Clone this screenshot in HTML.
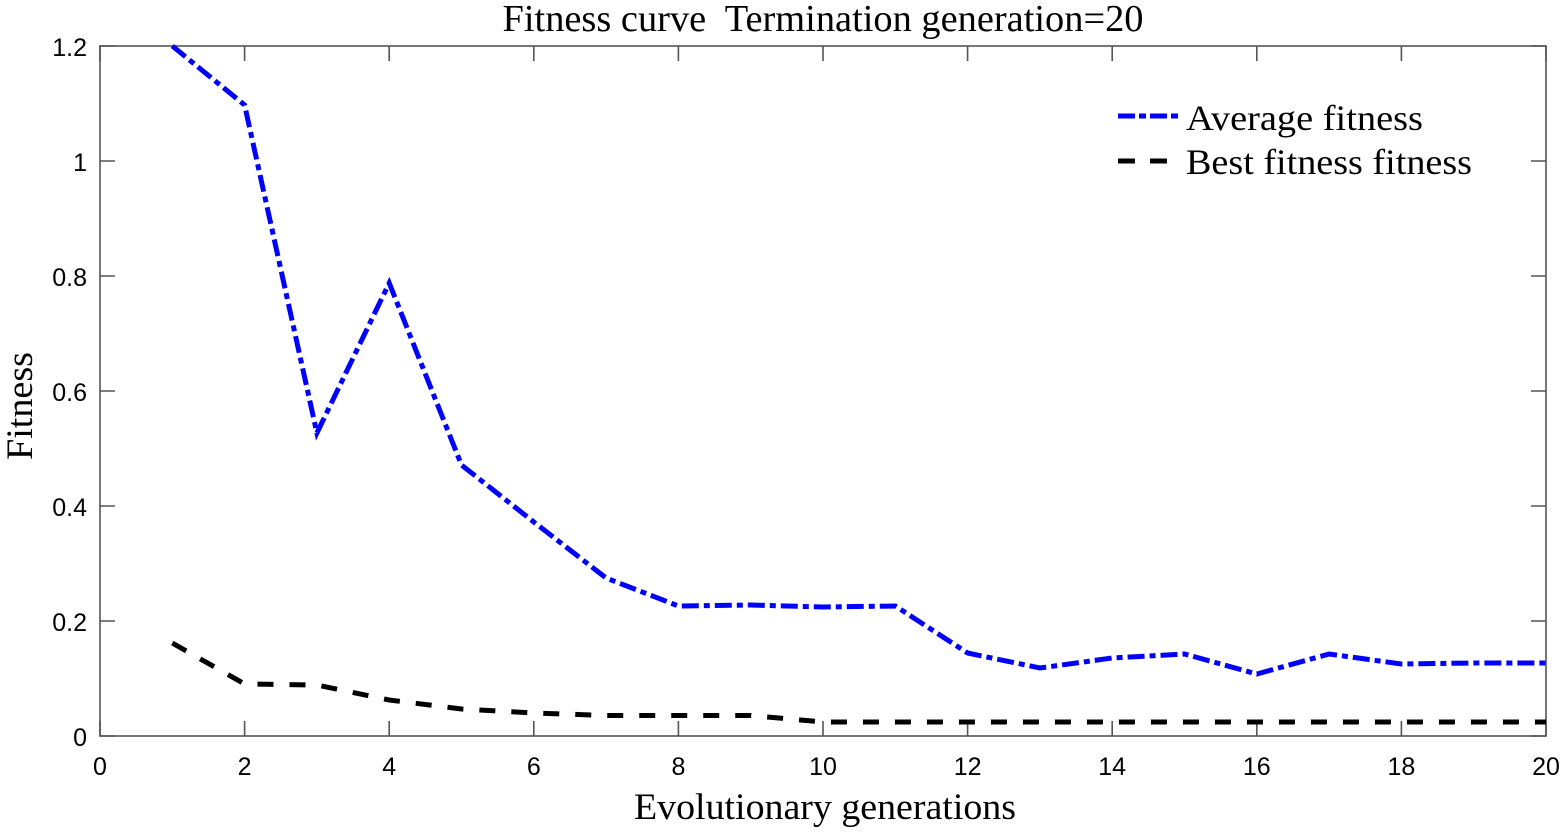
<!DOCTYPE html>
<html><head><meta charset="utf-8"><style>
html,body{margin:0;padding:0;background:#fff;}
svg{display:block;}
</style></head><body>
<svg width="1561" height="832" viewBox="0 0 1561 832" xmlns="http://www.w3.org/2000/svg">
<rect width="1561" height="832" fill="#fff"/>
<!-- title -->
<text x="823" y="31" xml:space="preserve" font-family="Liberation Serif, serif" font-size="38" text-anchor="middle" textLength="641" lengthAdjust="spacingAndGlyphs">Fitness curve  Termination generation=20</text>
<!-- axes box -->
<g stroke="#555" stroke-width="1.6" fill="none">
<rect x="100" y="46" width="1446" height="690"/>
<path d="M100 736v-15M244.6 736v-15M389.2 736v-15M533.8 736v-15M678.4 736v-15M823 736v-15M967.6 736v-15M1112.2 736v-15M1256.8 736v-15M1401.4 736v-15M1546 736v-15
M100 46v15M244.6 46v15M389.2 46v15M533.8 46v15M678.4 46v15M823 46v15M967.6 46v15M1112.2 46v15M1256.8 46v15M1401.4 46v15M1546 46v15
M100 736h15M100 621h15M100 506h15M100 391h15M100 276h15M100 161h15M100 46h15
M1546 736h-15M1546 621h-15M1546 506h-15M1546 391h-15M1546 276h-15M1546 161h-15M1546 46h-15"/>
</g>
<!-- y tick labels -->
<g font-family="Liberation Sans, Arial, sans-serif" font-size="25" text-anchor="end" fill="#000">
<text x="87" y="746">0</text>
<text x="87" y="631">0.2</text>
<text x="87" y="516">0.4</text>
<text x="87" y="401">0.6</text>
<text x="87" y="286">0.8</text>
<text x="87" y="171">1</text>
<text x="87" y="56">1.2</text>
</g>
<!-- x tick labels -->
<g font-family="Liberation Sans, Arial, sans-serif" font-size="25" text-anchor="middle" fill="#000">
<text x="100" y="775">0</text>
<text x="244.6" y="775">2</text>
<text x="389.2" y="775">4</text>
<text x="533.8" y="775">6</text>
<text x="678.4" y="775">8</text>
<text x="823" y="775">10</text>
<text x="967.6" y="775">12</text>
<text x="1112.2" y="775">14</text>
<text x="1256.8" y="775">16</text>
<text x="1401.4" y="775">18</text>
<text x="1546" y="775">20</text>
</g>
<!-- axis labels -->
<text x="825" y="819" font-family="Liberation Serif, serif" font-size="37" text-anchor="middle" textLength="382" lengthAdjust="spacingAndGlyphs">Evolutionary generations</text>
<text transform="translate(32,406) rotate(-90)" font-family="Liberation Serif, serif" font-size="37" text-anchor="middle" textLength="108" lengthAdjust="spacingAndGlyphs">Fitness</text>
<!-- series -->
<polyline fill="none" stroke="#0000ff" stroke-width="5" stroke-dasharray="17 5 6 5" stroke-linejoin="miter"
points="172.3,46 244.6,105 316.9,433 389.2,283 461.5,465 533.8,522 606.1,578 678.4,606 750.7,605 823,607 895.3,606 967.6,653 1039.9,668 1112.2,658 1184.5,654 1256.8,674 1329.1,654 1401.4,664 1473.7,663 1546,663"/>
<polyline fill="none" stroke="#000" stroke-width="5" stroke-dasharray="16 16"
points="172.3,643 244.6,684 316.9,685 389.2,700 461.5,709 533.8,713 606.1,715.5 678.4,715.5 750.7,715.5 823,722 895.3,722 967.6,722 1039.9,722 1112.2,722 1184.5,722 1256.8,722 1329.1,722 1401.4,722 1473.7,722 1546,722"/>
<!-- legend -->
<line x1="1118" y1="116" x2="1179" y2="116" stroke="#0000ff" stroke-width="5" stroke-dasharray="17 4 7 4"/>
<line x1="1118" y1="161" x2="1168" y2="161" stroke="#000" stroke-width="5" stroke-dasharray="17 15"/>
<text x="1186" y="130" font-family="Liberation Serif, serif" font-size="36" textLength="237" lengthAdjust="spacingAndGlyphs">Average fitness</text>
<text x="1186" y="174" font-family="Liberation Serif, serif" font-size="36" textLength="286" lengthAdjust="spacingAndGlyphs">Best fitness fitness</text>
</svg>
</body></html>
